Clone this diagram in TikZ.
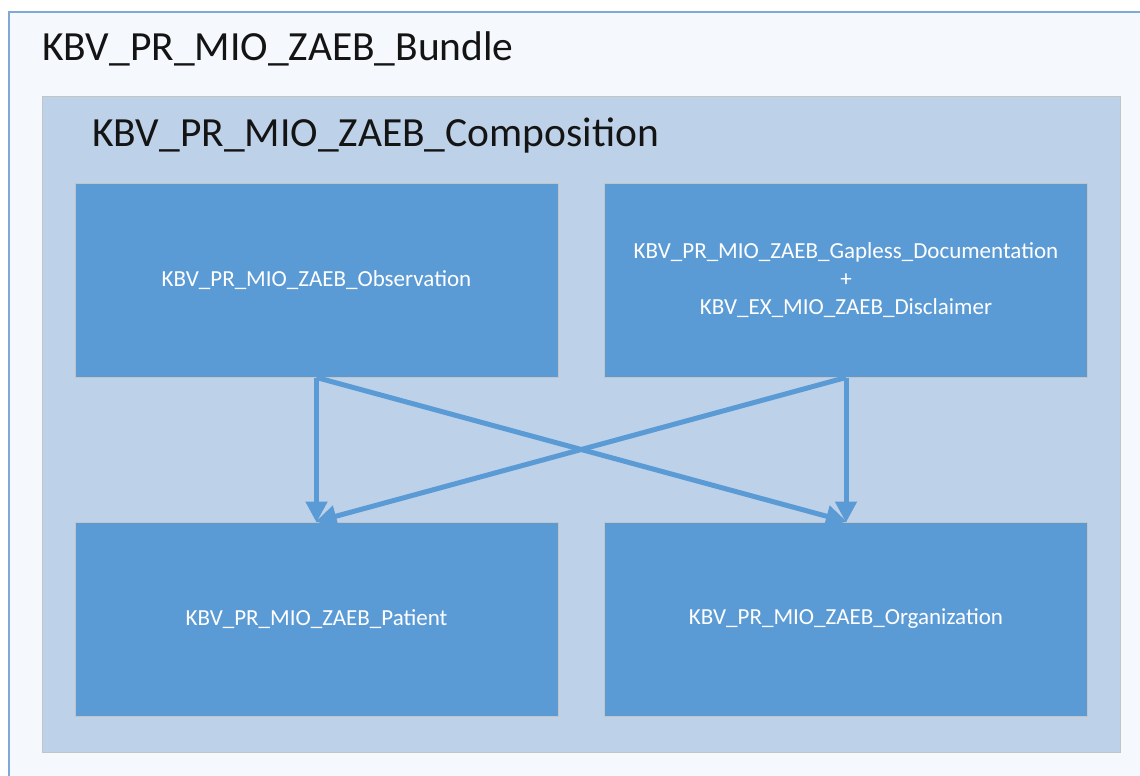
\documentclass[tikz,border=0pt]{standalone}
\usepackage{fontspec}
\setmainfont{Carlito}
\usetikzlibrary{arrows.meta}
\definecolor{boxblue}{HTML}{5B9BD5}
\definecolor{midblue}{HTML}{BDD1E9}
\definecolor{outerfill}{HTML}{F5F8FC}
\definecolor{outerline}{HTML}{82A9D6}
\definecolor{edgegray}{HTML}{C4C4C4}
\tikzset{
  cellbox/.style={draw=edgegray, line width=1pt, fill=boxblue, text=white,
    minimum width=483pt, minimum height=194pt, inner sep=0pt, align=center,
    font=\fontsize{23}{28}\selectfont},
  titletext/.style={anchor=base west, inner sep=0pt, text=black!92,
    font=\fontsize{41.5}{49}\selectfont},
  flow/.style={draw=boxblue, line width=5pt, -{Triangle[width=21pt,length=21pt]}, shorten >=-1pt}
}
\begin{document}
\begin{tikzpicture}[x=1pt,y=-1pt]
\useasboundingbox (0,0) rectangle (1140,776);
\clip (0,0) rectangle (1140,776);
\fill[white] (0,0) rectangle (1140,776);
\draw[outerline, line width=2pt, fill=outerfill] (9,12) rectangle (1160,800);
\draw[edgegray, line width=1pt, fill=midblue] (42,96) rectangle (1120,752);
\node[titletext] (bt) at (42,60) {KBV\_PR\_MIO\_ZAEB\_Bundle};
\node[titletext] (ct) at (92,146) {KBV\_PR\_MIO\_ZAEB\_Composition};
\node[cellbox] (obs) at (316.5,280) {KBV\_PR\_MIO\_ZAEB\_Observation};
\node[cellbox] (gap) at (846,280) {KBV\_PR\_MIO\_ZAEB\_Gapless\_Documentation\\+\\KBV\_EX\_MIO\_ZAEB\_Disclaimer};
\node[cellbox] (pat) at (316.5,619) {KBV\_PR\_MIO\_ZAEB\_Patient};
\node[cellbox] (org) at (846,619) {KBV\_PR\_MIO\_ZAEB\_Organization};
\draw[flow] (obs.south) -- (pat.north);
\draw[flow] (obs.south) -- (org.north);
\draw[flow] (gap.south) -- (org.north);
\draw[flow] (gap.south) -- (pat.north);
\end{tikzpicture}
\end{document}
